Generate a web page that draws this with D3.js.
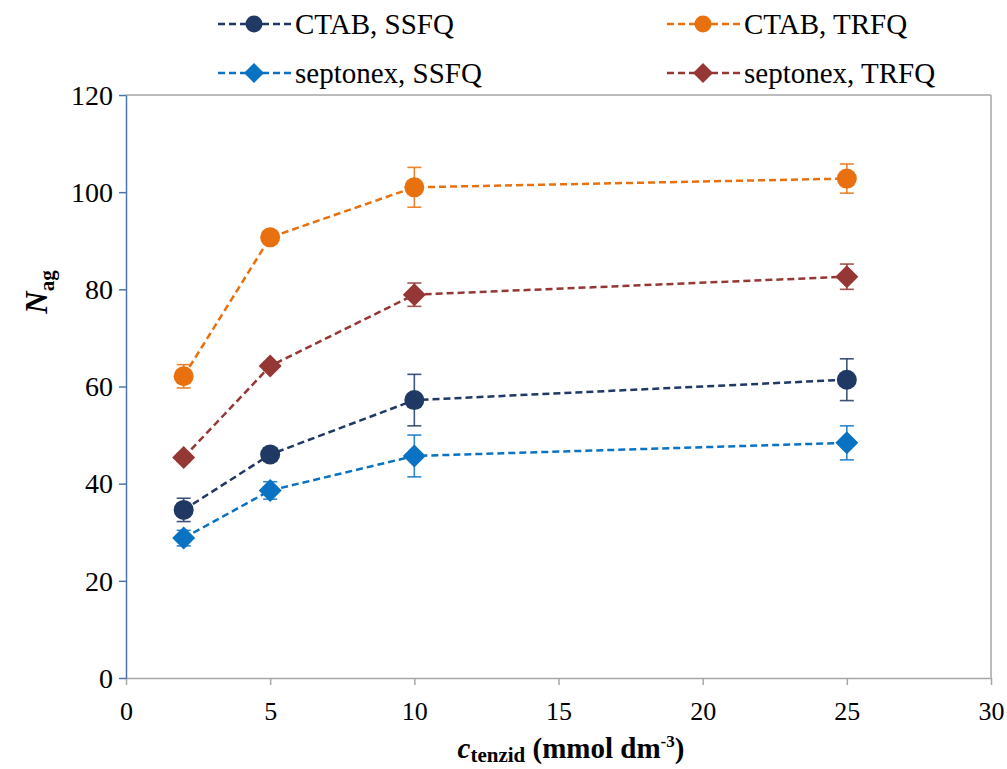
<!DOCTYPE html>
<html><head><meta charset="utf-8">
<script src="https://cdn.jsdelivr.net/npm/d3@7"></script>
<style>body{margin:0;background:#fff}svg{display:block}svg text{font-family:"Liberation Serif","Times New Roman",serif !important}</style>
</head><body><svg id="c" width="1007" height="769"></svg>
<script>
const xValues = [2, 5, 10, 25];
const seriesNames = ["CTAB, SSFQ", "CTAB, TRFQ", "septonex, SSFQ", "septonex, TRFQ"];
const ctabSSFQ = [34.6, 46.0, 57.2, 61.4];
const ctabSSFQErr = [2.4, 1.4, 5.3, 4.3];
const ctabTRFQ = [62.1, 90.7, 101.0, 102.8];
const ctabTRFQErr = [2.4, 1.2, 4.1, 3.0];
const septSSFQ = [28.8, 38.6, 45.7, 48.4];
const septSSFQErr = [1.6, 1.8, 4.3, 3.5];
const septTRFQ = [45.4, 64.2, 78.9, 82.6];
const septTRFQErr = [0.8, 0.8, 2.4, 2.6];
const xTicks = [0, 5, 10, 15, 20, 25, 30];
const yTicks = [0, 20, 40, 60, 80, 100, 120];

const colors = ["#1f3864", "#e8700e", "#0a72c2", "#953735"];
const shapes = ["circle", "circle", "diamond", "diamond"];
const series = [
  {name: seriesNames[0], v: ctabSSFQ, e: ctabSSFQErr},
  {name: seriesNames[1], v: ctabTRFQ, e: ctabTRFQErr},
  {name: seriesNames[2], v: septSSFQ, e: septSSFQErr},
  {name: seriesNames[3], v: septTRFQ, e: septTRFQErr}
];

const svg = d3.select("#c");
const L = 126, R = 991, T = 95, B = 678;
const x = d3.scaleLinear().domain([0, 30]).range([L, R]);
const y = d3.scaleLinear().domain([0, 120]).range([B, T]);

// frame
svg.append("line").attr("x1", L).attr("x2", R).attr("y1", T).attr("y2", T).attr("stroke", "#a6a6a6").attr("stroke-width", 1.5);
svg.append("line").attr("x1", R).attr("x2", R).attr("y1", T).attr("y2", B).attr("stroke", "#a6a6a6").attr("stroke-width", 1.5);

// x axis
const gx = svg.append("g").attr("transform", `translate(0,${B})`)
  .call(d3.axisBottom(x).tickValues(xTicks).tickSize(7).tickPadding(17).tickSizeOuter(0));
gx.select(".domain").attr("stroke", "#a6a6a6").attr("stroke-width", 1.5);
gx.selectAll(".tick line").attr("stroke", "#a6a6a6").attr("stroke-width", 1.5);
gx.selectAll(".tick text").attr("font-size", 26).attr("fill", "#000");

// y axis
const gy = svg.append("g").attr("transform", `translate(${L},0)`)
  .call(d3.axisLeft(y).tickValues(yTicks).tickSize(7).tickPadding(6).tickSizeOuter(0));
gy.select(".domain").attr("stroke", "#4a74b4").attr("stroke-width", 1.5);
gy.selectAll(".tick line").attr("stroke", "#4a74b4").attr("stroke-width", 1.5);
gy.selectAll(".tick text").attr("font-size", 28).attr("fill", "#000").attr("dy", "0.33em");

function marker(g, shape, color, cx, cy, s) {
  if (shape === "circle") {
    g.append("circle").attr("cx", cx).attr("cy", cy).attr("r", s).attr("fill", color);
  } else {
    const r = s + 1.5;
    g.append("path").attr("d", `M${cx},${cy - r}L${cx + r},${cy}L${cx},${cy + r}L${cx - r},${cy}Z`).attr("fill", color);
  }
}

const line = d3.line().x((d, i) => x(xValues[i])).y(d => y(d));

series.forEach((s, k) => {
  const g = svg.append("g");
  g.append("path").attr("d", line(s.v)).attr("fill", "none").attr("stroke", colors[k])
    .attr("stroke-width", 2.5).attr("stroke-dasharray", "7,4");
  s.v.forEach((v, i) => {
    const cx = x(xValues[i]);
    const y1 = y(v + s.e[i]), y2 = y(v - s.e[i]);
    g.append("line").attr("x1", cx).attr("x2", cx).attr("y1", y1).attr("y2", y2).attr("stroke", colors[k]).attr("stroke-width", 1.6).attr("opacity", 0.85);
    [y1, y2].forEach(yy => g.append("line").attr("x1", cx - 7).attr("x2", cx + 7).attr("y1", yy).attr("y2", yy).attr("stroke", colors[k]).attr("stroke-width", 1.6).attr("opacity", 0.85));
  });
  s.v.forEach((v, i) => marker(g, shapes[k], colors[k], x(xValues[i]), y(v), 10));
});

// legend
const legPos = [[218, 24], [667, 24], [218, 73], [667, 73]];
series.forEach((s, k) => {
  const [lx, ly] = legPos[k];
  const g = svg.append("g");
  g.append("line").attr("x1", lx).attr("x2", lx + 73).attr("y1", ly).attr("y2", ly)
    .attr("stroke", colors[k]).attr("stroke-width", 2.5).attr("stroke-dasharray", "7,4");
  marker(g, shapes[k], colors[k], lx + 36, ly, 8.5);
  g.append("text").attr("x", lx + 77).attr("y", ly + 10).attr("font-size", 29).attr("fill", "#000").text(s.name);
});

// y label
const yl = svg.append("text").attr("transform", "translate(47,292) rotate(-90)").attr("text-anchor", "middle")
  .attr("font-size", 31).attr("font-weight", "bold").attr("fill", "#000");
yl.append("tspan").attr("font-style", "italic").text("N");
yl.append("tspan").attr("font-size", 21).attr("dy", 7).text("ag");

// x label
const xl = svg.append("text").attr("x", 571).attr("y", 758).attr("text-anchor", "middle")
  .attr("font-size", 29).attr("font-weight", "bold").attr("fill", "#000");
xl.append("tspan").attr("font-style", "italic").text("c");
xl.append("tspan").attr("font-size", 21).attr("dy", 4).text("tenzid");
xl.append("tspan").attr("dy", -4).text(" (mmol dm");
xl.append("tspan").attr("font-size", 17).attr("dy", -11).text("-3");
xl.append("tspan").attr("dy", 11).text(")");
</script></body></html>
